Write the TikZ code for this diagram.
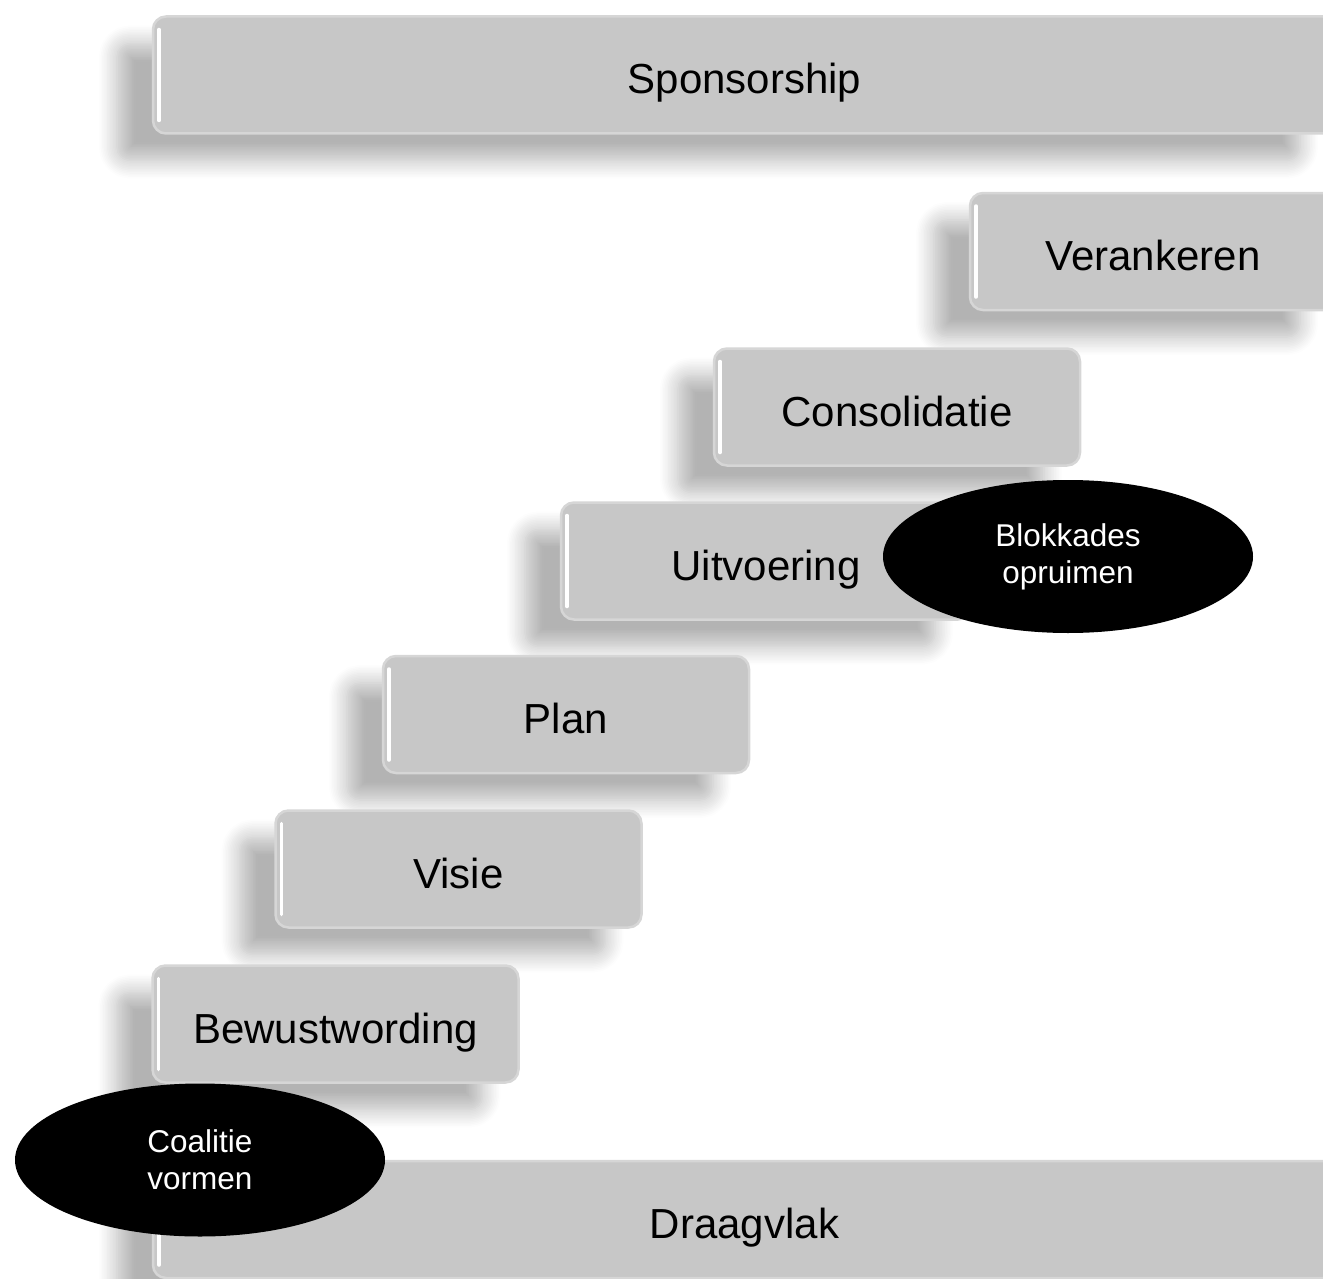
\documentclass[tikz,border=0pt]{standalone}
\usepackage{fontspec}
\setmainfont{Liberation Sans}
\usetikzlibrary{shadows.blur,shapes.geometric}
\definecolor{stepgray}{RGB}{199,199,199}
\definecolor{rimgray}{RGB}{214,214,214}

\begin{document}
\begin{tikzpicture}[x=1pt, y=-1pt]
    \tikzset{
        stage/.style={rectangle, rounded corners=13pt, fill=stepgray, draw=rimgray, line width=2.5pt,
            minimum width=366pt, minimum height=117pt, inner sep=0pt,
            text height=38pt, text depth=0pt,
            font=\fontsize{42}{50}\selectfont,
            blur shadow={shadow xshift=-36pt, shadow yshift=-27pt, shadow opacity=30,
                shadow blur radius=18pt, shadow blur steps=12},
            path picture={\draw[white, line width=3.5pt, line cap=round]
                ([xshift=6pt, yshift=-13pt]path picture bounding box.north west) --
                ([xshift=6pt, yshift=13pt]path picture bounding box.south west);}},
        wide stage/.style={stage, minimum width=1183pt},
        blocker/.style={ellipse, fill=black, text=white, minimum width=370pt, minimum height=153pt,
            inner sep=0pt, align=center, font=\fontsize{31.5}{37}\selectfont}
    }
    \useasboundingbox (0,0) rectangle (1323,1279);
    \clip (0,0) rectangle (1323,1279);

    % Top
    \node (sponsorship) [wide stage] at (744.5,75) {Sponsorship};

    % Steps, from the top down
    \node (verankeren) [stage] at (1153,251.5) {Verankeren};
    \node (consolidatie) [stage] at (897,407) {Consolidatie};
    \node (uitvoering) [stage, minimum width=410pt] at (766,561) {Uitvoering};
    \node (plan) [stage] at (566,714.5) {Plan};
    \node (visie) [stage] at (458.5,869) {Visie};
    \node (bewustwording) [stage] at (335.5,1024) {Bewustwording};

    % Base
    \node (draagvlak) [wide stage] at (744.5,1219.5) {Draagvlak};

    % Ellipses
    \node (coalitie) [blocker] at (200,1160) {Coalitie\\vormen};
    \node (blokkades) [blocker] at (1068,556.5) {Blokkades\\opruimen};
\end{tikzpicture}
\end{document}
